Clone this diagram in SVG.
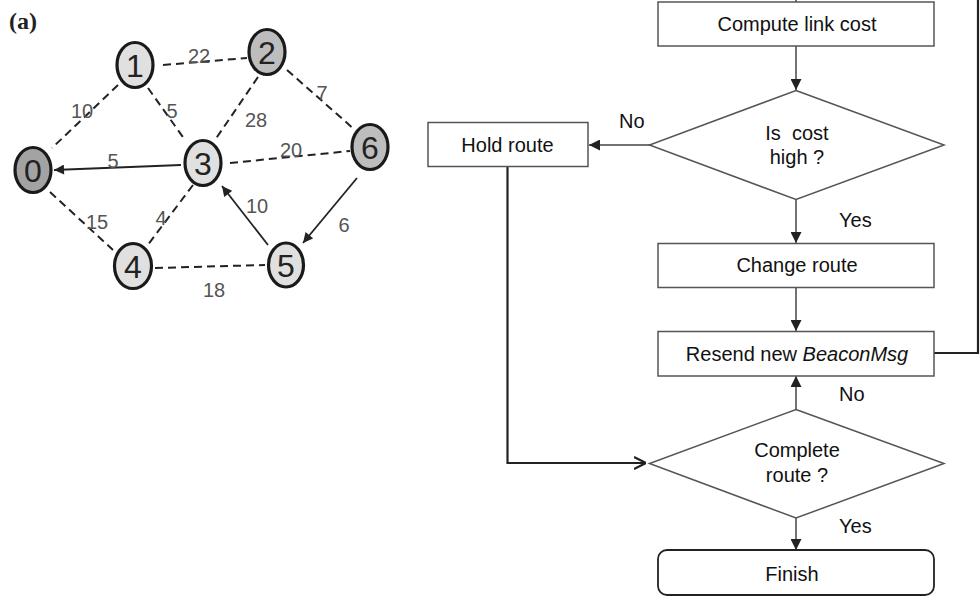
<svg xmlns="http://www.w3.org/2000/svg" width="980" height="597" viewBox="0 0 980 597">
<style>
  .node ellipse{stroke:#1a1a1a;stroke-width:3.2}
  .light{fill:#e0e0e0}
  .mid{fill:#bdbdbd}
  .dark{fill:#a3a3a3}
  .nlabel{font-family:"Liberation Sans",Arial,sans-serif;font-size:32px;fill:#222;text-anchor:middle}
  .elabel{font-family:"Liberation Sans",Arial,sans-serif;font-size:20px;fill:#555;text-anchor:middle}
  .dash{stroke:#222;stroke-width:2;stroke-dasharray:8,5;fill:none}
  .solid{stroke:#222;stroke-width:1.8;fill:none}
  .box{fill:#fff;stroke:#555;stroke-width:1.5}
  .ftext{font-family:"Liberation Sans",Arial,sans-serif;font-size:20px;fill:#111;text-anchor:middle}
  .lbl{font-family:"Liberation Sans",Arial,sans-serif;font-size:20px;fill:#111}
  .fl{stroke:#444;stroke-width:1.5;fill:none}
  .fl2{stroke:#222;stroke-width:2.2;fill:none}
</style>
<defs>
  <marker id="ga" viewBox="0 0 10 10" refX="10" refY="5" markerWidth="11" markerHeight="10" markerUnits="userSpaceOnUse" orient="auto">
    <path d="M0,0 L10,5 L0,10 z" fill="#222"/>
  </marker>
  <marker id="fa" viewBox="0 0 10 10" refX="10" refY="5" markerWidth="11" markerHeight="11" markerUnits="userSpaceOnUse" orient="auto">
    <path d="M0,0 L10,5 L0,10 z" fill="#222"/>
  </marker>
  <marker id="oa" viewBox="0 0 10 10" refX="10" refY="5" markerWidth="12" markerHeight="14" markerUnits="userSpaceOnUse" orient="auto">
    <path d="M0,0 L10,5 L0,10" fill="none" stroke="#222" stroke-width="1.8"/>
  </marker>
</defs>
<rect width="980" height="597" fill="#fff"/>

<text x="9" y="29" font-family="Liberation Serif,Times New Roman,serif" font-weight="bold" font-size="24" fill="#222">(a)</text>

<g id="graph-edges">
  <line class="dash" x1="163" y1="65" x2="247" y2="58"/>
  <line class="dash" x1="118" y1="85" x2="52" y2="148"/>
  <line class="dash" x1="148" y1="88" x2="185" y2="140"/>
  <line class="dash" x1="258" y1="77" x2="215" y2="140"/>
  <line class="dash" x1="287" y1="70" x2="355" y2="130"/>
  <line class="dash" x1="230" y1="163" x2="350" y2="151"/>
  <line class="dash" x1="50" y1="192" x2="113" y2="250"/>
  <line class="dash" x1="193" y1="185" x2="147" y2="246"/>
  <line class="dash" x1="155" y1="268" x2="265" y2="265"/>
  <line class="solid" x1="181" y1="165" x2="54" y2="170" marker-end="url(#ga)"/>
  <line class="solid" x1="268" y1="245" x2="222" y2="186" marker-end="url(#ga)"/>
  <line class="solid" x1="357" y1="178" x2="303" y2="243" marker-end="url(#ga)"/>
  <text class="elabel" x="199" y="63">22</text>
  <text class="elabel" x="82" y="118">10</text>
  <text class="elabel" x="172" y="118">5</text>
  <text class="elabel" x="256" y="127">28</text>
  <text class="elabel" x="322" y="100">7</text>
  <text class="elabel" x="291" y="157">20</text>
  <text class="elabel" x="113" y="168">5</text>
  <text class="elabel" x="97" y="229">15</text>
  <text class="elabel" x="161" y="225">4</text>
  <text class="elabel" x="257" y="213">10</text>
  <text class="elabel" x="344" y="232">6</text>
  <text class="elabel" x="214" y="297">18</text>
</g>

<g id="n0" class="node"><ellipse class="dark" cx="33" cy="170" rx="18" ry="22.5"/><text class="nlabel" x="33" y="182">0</text></g>
<g id="n1" class="node"><ellipse class="light" cx="135" cy="65" rx="18" ry="22.5"/><text class="nlabel" x="135" y="77">1</text></g>
<g id="n2" class="node"><ellipse class="mid" cx="267" cy="52" rx="18" ry="22.5"/><text class="nlabel" x="267" y="64">2</text></g>
<g id="n3" class="node"><ellipse class="light" cx="203" cy="163" rx="18" ry="22.5"/><text class="nlabel" x="203" y="175">3</text></g>
<g id="n6" class="node"><ellipse class="mid" cx="370" cy="147" rx="18" ry="22.5"/><text class="nlabel" x="370" y="159">6</text></g>
<g id="n4" class="node"><ellipse class="light" cx="133" cy="266" rx="18.5" ry="22.5"/><text class="nlabel" x="133" y="278">4</text></g>
<g id="n5" class="node"><ellipse class="light" cx="286" cy="265" rx="17.5" ry="22"/><text class="nlabel" x="286" y="277">5</text></g>

<g id="flow-connectors">
  <line class="fl" x1="796" y1="0" x2="796" y2="2"/>
  <line class="fl" x1="796" y1="46" x2="796" y2="90" marker-end="url(#fa)"/>
  <line class="fl" x1="650" y1="145" x2="589" y2="145" marker-end="url(#fa)"/>
  <line class="fl" x1="796" y1="199" x2="796" y2="243" marker-end="url(#fa)"/>
  <line class="fl" x1="796" y1="287" x2="796" y2="331" marker-end="url(#fa)"/>
  <line class="fl" x1="796" y1="409" x2="796" y2="376" marker-end="url(#fa)"/>
  <line class="fl" x1="796" y1="518" x2="796" y2="550" marker-end="url(#fa)"/>
  <polyline class="fl2" points="507.5,167 507.5,463 646,463" marker-end="url(#oa)"/>
  <polyline class="fl2" points="934,353 978,353 978,0"/>
  <text class="lbl" x="619" y="128">No</text>
  <text class="lbl" x="839" y="227">Yes</text>
  <text class="lbl" x="839" y="401">No</text>
  <text class="lbl" x="839" y="533">Yes</text>
</g>

<g id="compute"><rect class="box" x="658" y="2" width="276" height="44"/><text class="ftext" x="797" y="31">Compute link cost</text></g>
<g id="costhigh"><polygon class="box" points="796,90.5 944,145 796,199.5 649.5,145"/><text class="ftext" x="797" y="140">Is&#160; cost</text><text class="ftext" x="797" y="164">high ?</text></g>
<g id="hold"><rect class="box" x="428" y="122.5" width="160" height="44"/><text class="ftext" x="507.5" y="152">Hold route</text></g>
<g id="change"><rect class="box" x="658" y="243.5" width="276" height="44"/><text class="ftext" x="797" y="272">Change route</text></g>
<g id="resend"><rect class="box" x="658" y="331.5" width="276" height="44.5"/><text class="ftext" x="797" y="361">Resend new <tspan font-style="italic">BeaconMsg</tspan></text></g>
<g id="complete"><polygon class="box" points="796,409.5 944,463.5 796,518 649.5,463.5"/><text class="ftext" x="797" y="457">Complete</text><text class="ftext" x="797" y="482">route ?</text></g>
<g id="finish"><rect class="box" x="658" y="550" width="276" height="45" rx="9" ry="9" style="stroke:#222;stroke-width:1.8"/><text class="ftext" x="792" y="581">Finish</text></g>
</svg>
